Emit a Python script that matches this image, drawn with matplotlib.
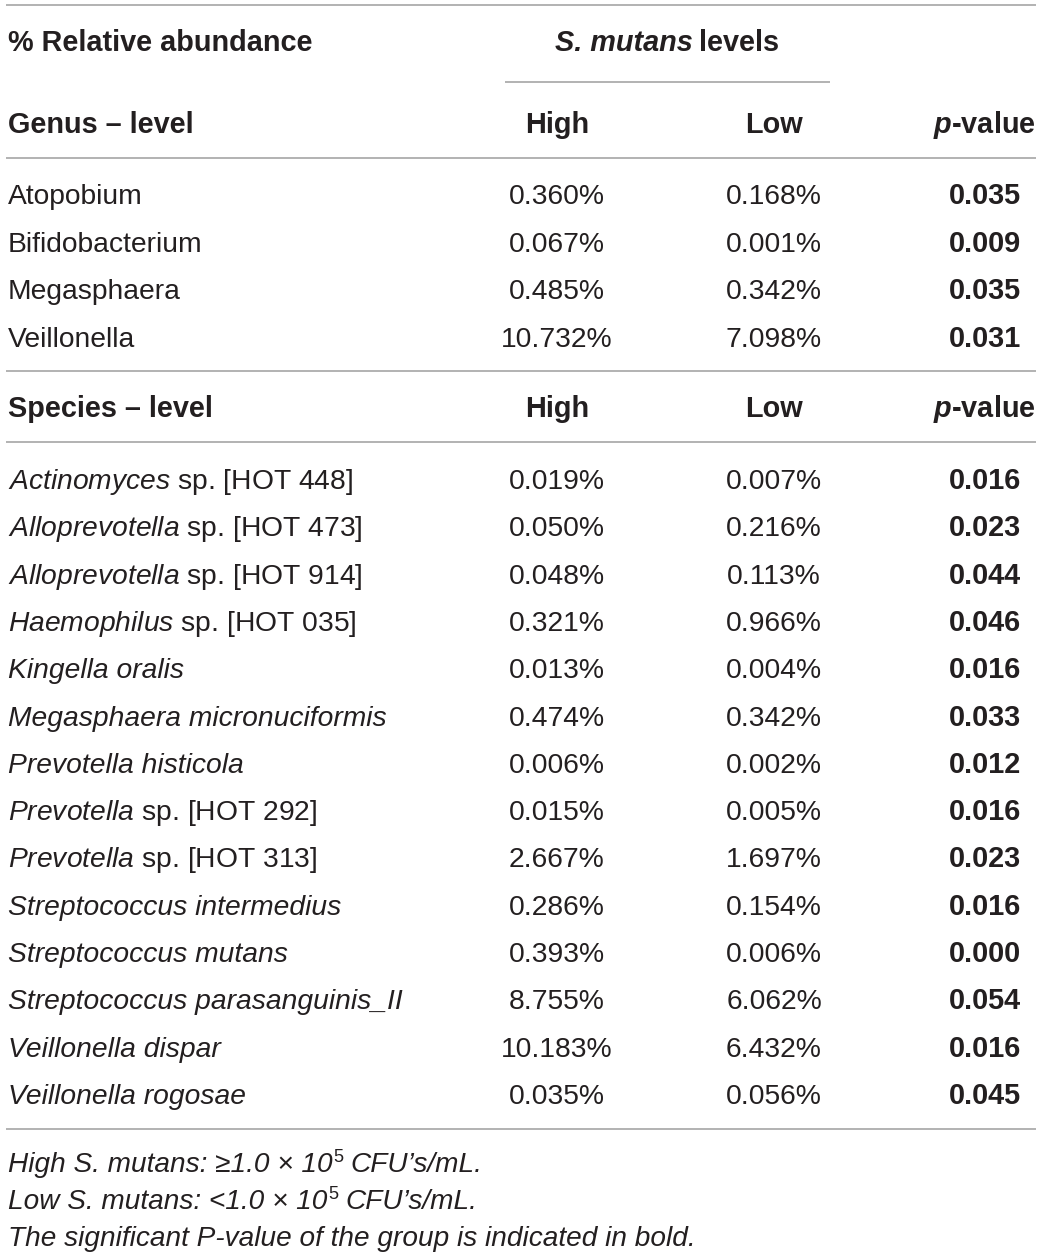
import matplotlib
matplotlib.use("Agg")
import matplotlib.pyplot as plt

plt.rcParams['font.family'] = ['Liberation Sans', 'DejaVu Sans']
plt.rcParams['mathtext.fontset'] = 'custom'
plt.rcParams['mathtext.rm'] = 'Liberation Sans'
plt.rcParams['mathtext.it'] = 'Liberation Sans:italic'
plt.rcParams['mathtext.bf'] = 'Liberation Sans:bold'
plt.rcParams['mathtext.bfit'] = 'Liberation Sans:italic:bold'

# table data
genus = ["Atopobium", "Bifidobacterium", "Megasphaera", "Veillonella"]
genus_high = ["0.360%", "0.067%", "0.485%", "10.732%"]
genus_low = ["0.168%", "0.001%", "0.342%", "7.098%"]
genus_p = ["0.035", "0.009", "0.035", "0.031"]

species = [
    r"$\mathit{Actinomyces}$ sp. [HOT 448]",
    r"$\mathit{Alloprevotella}$ sp. [HOT 473]",
    r"$\mathit{Alloprevotella}$ sp. [HOT 914]",
    r"$\mathit{Haemophilus}$ sp. [HOT 035]",
    "Kingella oralis",
    "Megasphaera micronuciformis",
    "Prevotella histicola",
    r"$\mathit{Prevotella}$ sp. [HOT 292]",
    r"$\mathit{Prevotella}$ sp. [HOT 313]",
    "Streptococcus intermedius",
    "Streptococcus mutans",
    "Streptococcus parasanguinis_II",
    "Veillonella dispar",
    "Veillonella rogosae",
]
species_high = ["0.019%", "0.050%", "0.048%", "0.321%", "0.013%", "0.474%", "0.006%",
                "0.015%", "2.667%", "0.286%", "0.393%", "8.755%", "10.183%", "0.035%"]
species_low = ["0.007%", "0.216%", "0.113%", "0.966%", "0.004%", "0.342%", "0.002%",
               "0.005%", "1.697%", "0.154%", "0.006%", "6.062%", "6.432%", "0.056%"]
species_p = ["0.016", "0.023", "0.044", "0.046", "0.016", "0.033", "0.012",
             "0.016", "0.023", "0.016", "0.000", "0.054", "0.016", "0.045"]

# footnotes: (text before superscript, superscript, text after)
footnotes = [
    ("High S. mutans: ≥1.0 × 10", "5", "CFU’s/mL."),
    ("Low S. mutans: <1.0 × 10", "5", "CFU’s/mL."),
    ("The significant P-value of the group is indicated in bold.", "", ""),
]

W, H = 1042, 1257
fig = plt.figure(figsize=(W / 100, H / 100), dpi=100)
ax = fig.add_axes([0, 0, 1, 1])
ax.set_xlim(0, W)
ax.set_ylim(H, 0)
ax.axis('off')
renderer = fig.canvas.get_renderer()

fs = 20.3
fs_b = 20.8
txt = '#231f20'
line_c = '#a6a6a6'
x_name, x_high, x_low, x_p = 8, 557, 774, 1036


def hline(y, x0=6, x1=1036):
    ax.plot([x0, x1], [y, y], color=line_c, lw=1.2, solid_capstyle='butt')


def width(t):
    return t.get_window_extent(renderer).width


hline(5)
hline(82, 505, 830)
hline(158)
hline(371)
hline(442)
hline(1129)

# header
ax.text(x_name, 51, "% Relative abundance", fontsize=fs_b, weight='bold', color=txt, va='baseline')
t1 = ax.text(0, 51, "S. mutans", fontsize=fs_b, weight='bold', style='italic', color=txt, va='baseline')
t2 = ax.text(0, 51, "levels", fontsize=fs_b, weight='bold', color=txt, va='baseline')
gap = 7
total = width(t1) + gap + width(t2)
x0 = 667 - total / 2
t1.set_x(x0)
t2.set_x(x0 + width(t1) + gap)


def header_row(y, label):
    ax.text(x_name, y, label, fontsize=fs_b, weight='bold', color=txt, va='baseline')
    ax.text(x_high, y, "High", fontsize=fs_b, weight='bold', color=txt, va='baseline', ha='center')
    ax.text(x_low, y, "Low", fontsize=fs_b, weight='bold', color=txt, va='baseline', ha='center')
    ax.text(x_p, y, r"$\mathbfit{p}$-value", fontsize=fs_b, weight='bold', color=txt,
            va='baseline', ha='right')


def data_rows(y0, step, names, high, low, pv, italic=False):
    for i in range(len(names)):
        y = y0 + i * step
        st = 'italic' if (italic and '$' not in names[i]) else 'normal'
        ax.text(x_name, y, names[i], fontsize=fs, style=st, color=txt, va='baseline')
        ax.text(x_high, y, high[i], fontsize=fs, color=txt, va='baseline', ha='center')
        ax.text(x_low, y, low[i], fontsize=fs, color=txt, va='baseline', ha='center')
        ax.text(x_p - 15, y, pv[i], fontsize=fs_b, weight='bold', color=txt,
                va='baseline', ha='right')


header_row(133, "Genus – level")
data_rows(204, 47.6, genus, genus_high, genus_low, genus_p)
header_row(417, "Species – level")
data_rows(489, 47.3, species, species_high, species_low, species_p, italic=True)

fs_f = 20.2
for i, (a, sup, b) in enumerate(footnotes):
    y = 1172 + i * 37
    t = ax.text(x_name, y, a, fontsize=fs_f, style='italic', color=txt, va='baseline')
    if sup:
        x = x_name + width(t) + 1
        s = ax.text(x, y - 10, sup, fontsize=fs_f * 0.65, color=txt, va='baseline')
        x = x + width(s) + 7
        ax.text(x, y, b, fontsize=fs_f, style='italic', color=txt, va='baseline')

fig.savefig("out.png", dpi=100)
